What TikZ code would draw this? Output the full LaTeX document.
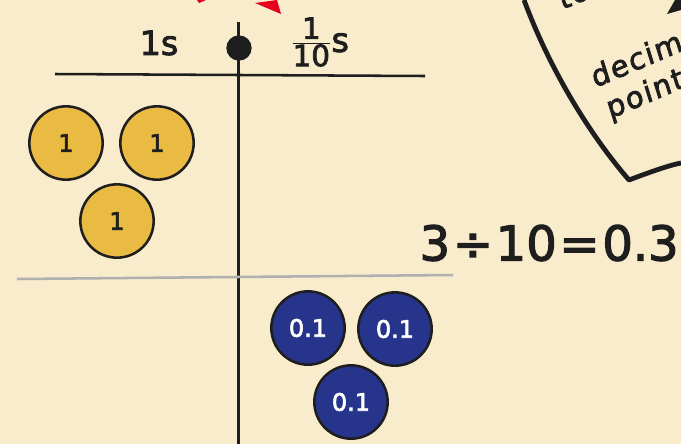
\documentclass[tikz,border=0pt]{standalone}
\usepackage{fontspec}
\setmainfont{DejaVu Sans}
\newfontfamily\inkfont[FakeBold=2.5]{DejaVu Sans}
\newfontfamily\notefont[FakeBold=2.5,FakeSlant=0.1,LetterSpace=6]{DejaVu Sans}
\usepackage{tikz}
\usetikzlibrary{positioning, calc}
\definecolor{paperbg}{RGB}{249, 236, 204}
\definecolor{inkdark}{RGB}{30, 30, 30}
\definecolor{coingold}{RGB}{233, 187, 66}
\definecolor{coinblue}{RGB}{39, 52, 140}
\definecolor{rulegrey}{RGB}{176, 176, 176}
\definecolor{markred}{RGB}{230, 0, 30}
\tikzset{
	goldcoin/.style={circle, draw=inkdark, line width=1.9pt, fill=coingold, minimum size=55pt, inner sep=0pt, text=inkdark, font=\inkfont\fontsize{18}{18}\selectfont},
	bluecoin/.style={circle, draw=inkdark, line width=1.9pt, fill=coinblue, minimum size=55pt, inner sep=0pt, text=white, font=\inkfont\fontsize{18}{18}\selectfont},
	headtext/.style={text=inkdark, font=\inkfont\fontsize{25}{25}\selectfont},
	notetext/.style={text=inkdark, rotate=23, anchor=base west, inner sep=0pt, font=\notefont\fontsize{22}{22}\selectfont}
}
\begin{document}
\begin{tikzpicture}[x=0.75pt, y=-0.75pt]
	\useasboundingbox[fill=paperbg] (0,0) rectangle (681,444);
	% red marks cut off at the top
	\fill[markred] (197,0)--(206,0)--(199,3)--cycle;
	\fill[markred] (255,3)--(277,0)--(281,14)--cycle;
	% place value table
	\coordinate (topend) at (238.5,22);
	\coordinate (lowend) at (238.5,444);
	\coordinate (headleft) at (55,74);
	\coordinate (headright) at (425,76);
	\coordinate (splitleft) at (17,279);
	\coordinate (splitright) at (453,275);
	\draw[inkdark, line width=1.9pt] (topend) -- (lowend);
	\draw[inkdark, line width=1.9pt] (headleft) -- (headright);
	\draw[rulegrey, line width=1.9pt] (splitleft) -- (splitright);
	\node[circle, fill=inkdark, minimum size=19pt, inner sep=0pt] (point) at (239,48) {};
	\node[headtext] (ones) at (159,43) {1s};
	\node[headtext, inner sep=0pt] (tenths) at (320,42) {$\frac{\mbox{\fontsize{22}{22}\selectfont 1}}{\mbox{\fontsize{22}{22}\selectfont 10}}$s};
	% counters
	\node[goldcoin] (gold1) at (66,143) {1};
	\node[goldcoin] (gold2) at (157,143) {1};
	\node[goldcoin] (gold3) at (117,221) {1};
	\node[bluecoin] (blue1) at (308,328) {0.1};
	\node[bluecoin] (blue2) at (395,329) {0.1};
	\node[bluecoin] (blue3) at (351,402) {0.1};
	% sum
	\node[text=inkdark, font=\inkfont\fontsize{36}{36}\selectfont, anchor=east, inner sep=0pt] (sum) at (679,243) {3\hspace{2pt}÷\hspace{2pt}10\hspace{2pt}=\hspace{2pt}0.3};
	% paper note
	\draw[inkdark, line width=3.6pt, line join=round] (524,0) .. controls (550,70) and (590,135) .. (629,180) .. controls (650,172) and (670,165) .. (681,163);
	\fill[inkdark] (667,14)--(675,0)--(681,0)--(681,10)--cycle;
	\node[notetext] (decimal) at (595,88) {decimal};
	\node[notetext] (pointword) at (610,119) {point};
	\node[notetext] (topword) at (562,10) {to};
\end{tikzpicture}
\end{document}
